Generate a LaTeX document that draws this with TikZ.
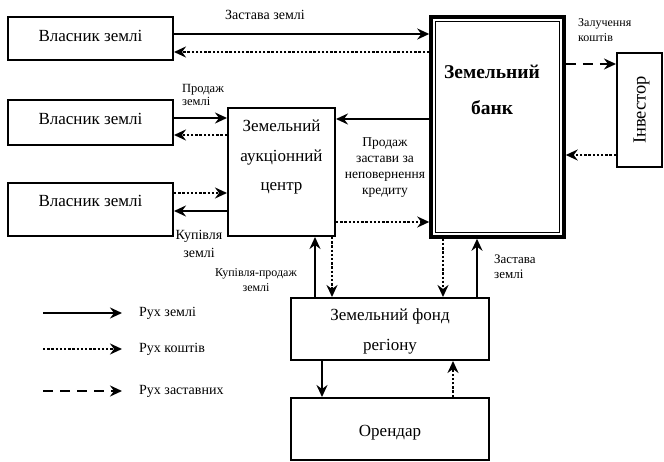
\documentclass[tikz,border=0pt]{standalone}
\usepackage{fontspec}
\setmainfont{Liberation Serif}
\usetikzlibrary{arrows.meta,positioning,calc}
\tikzset{
  box/.style={draw, line width=2pt, rectangle, inner sep=0pt},
  btxt/.style={inner sep=0pt, align=center, font=\fontsize{17}{29.5}\selectfont},
  lbl/.style={inner sep=0pt, font=\fontsize{13.5}{16}\selectfont, align=center},
  small/.style={inner sep=0pt, font=\fontsize{12.5}{14.5}\selectfont, align=left, anchor=west},
  tip/.style={-{Stealth[length=12pt,width=11pt,inset=4pt]}},
  land/.style={tip, line width=2pt},
  money/.style={tip, line width=2.6pt, dash pattern=on 2.4pt off 1.8pt},
  pledge/.style={tip, line width=2.2pt, dash pattern=on 10pt off 7pt},
}
\begin{document}
\begin{tikzpicture}[x=1pt,y=-1pt]
\useasboundingbox (0,0) rectangle (664,462);
% boxes
\node[box, minimum width=165pt, minimum height=43pt] (o1) at (90.5,39) {};
\node[btxt] (o1t) at (90.5,36) {Власник землі};
\node[box, minimum width=165pt, minimum height=45pt] (o2) at (90.5,122.5) {};
\node[btxt] (o2t) at (90.5,118.5) {Власник землі};
\node[box, minimum width=165pt, minimum height=53pt] (o3) at (90.5,209.5) {};
\node[btxt] (o3t) at (90.5,200.5) {Власник землі};
\node[box, minimum width=107pt, minimum height=128pt] (auc) at (281.5,172) {};
\node[btxt] (auctxt) at (281.5,157) {Земельний\\аукціонний\\центр};
\node[box, line width=3.5pt, minimum width=133pt, minimum height=220pt] (bank) at (497.5,127) {};
\draw[line width=1pt] ([shift={(6,6)}]bank.north west) rectangle ([shift={(-6,-6)}]bank.south east);
\node[inner sep=0pt, align=center, font=\fontsize{19.5}{36}\selectfont\bfseries] (banktxt) at (492,90) {Земельний\\банк};
\node[box, minimum width=45pt, minimum height=114pt] (inv) at (639.5,110) {};
\node[inner sep=0pt, rotate=90, font=\fontsize{18.5}{20}\selectfont] (invtxt) at (641.5,110) {Інвестор};
\node[box, minimum width=198pt, minimum height=62pt] (fund) at (390,329) {};
\node[btxt, font=\fontsize{17}{30}\selectfont] (fundt) at (390,331.5) {Земельний фонд\\регіону};
\node[box, minimum width=198pt, minimum height=62pt] (ore) at (390,429) {};
\node[btxt] (oret) at (390,433) {Орендар};
% connectors
\draw[land] (o1.east|-0,34) -- (bank.west|-0,34);
\draw[money] (bank.west|-0,52) -- (o1.east|-0,52);
\draw[land] (o2.east|-0,118) -- (auc.west|-0,118);
\draw[money] (auc.west|-0,135) -- (o2.east|-0,135);
\draw[money] (o3.east|-0,193) -- (auc.west|-0,193);
\draw[land] (auc.west|-0,211) -- (o3.east|-0,211);
\draw[land] (bank.west|-0,119) -- (auc.east|-0,119);
\draw[money] (auc.east|-0,222) -- (bank.west|-0,222);
\draw[pledge] (bank.east|-0,64) -- (inv.west|-0,64);
\draw[money] (inv.west|-0,155) -- (bank.east|-0,155);
\draw[land] (fund.north-|315,0) -- (auc.south-|315,0);
\draw[money] (auc.south-|332,0) -- (fund.north-|332,0);
\draw[money] (bank.south-|443,0) -- (fund.north-|443,0);
\draw[land] (fund.north-|477,0) -- (bank.south-|477,0);
\draw[land] (fund.south-|322,0) -- (ore.north-|322,0);
\draw[money] (ore.north-|453,0) -- (fund.south-|453,0);
% labels
\node[lbl, font=\fontsize{14}{16}\selectfont] (l1) at (265,15) {Застава землі};
\node[small, font=\fontsize{12.5}{13}\selectfont] (l2) at (182,95) {Продаж\\землі};
\node[lbl, font=\fontsize{14}{18}\selectfont] (l3) at (199,243.5) {Купівля\\землі};
\node[lbl, font=\fontsize{13.5}{16}\selectfont] (l4) at (385,167.5) {Продаж\\застави за\\неповернення\\кредиту};
\node[small, font=\fontsize{12}{15}\selectfont] (l5) at (578,30.5) {Залучення\\коштів};
\node[lbl, font=\fontsize{12}{15}\selectfont] (l6) at (256,280) {Купівля-продаж\\землі};
\node[small, font=\fontsize{13}{15}\selectfont] (l7) at (494,267) {Застава\\землі};
% legend
\coordinate (lg1a) at (43,313); \coordinate (lg1b) at (122,313);
\coordinate (lg2a) at (43,349); \coordinate (lg2b) at (122,349);
\coordinate (lg3a) at (43,391); \coordinate (lg3b) at (122,391);
\draw[land] (lg1a) -- (lg1b);
\draw[money] (lg2a) -- (lg2b);
\draw[pledge] (lg3a) -- (lg3b);
\node[lbl, anchor=west, font=\fontsize{14}{16}\selectfont] (t1) at (139,313) {Рух землі};
\node[lbl, anchor=west, font=\fontsize{14}{16}\selectfont] (t2) at (139,349) {Рух коштів};
\node[lbl, anchor=west, font=\fontsize{14}{16}\selectfont] (t3) at (139,391) {Рух заставних};
\end{tikzpicture}
\end{document}
